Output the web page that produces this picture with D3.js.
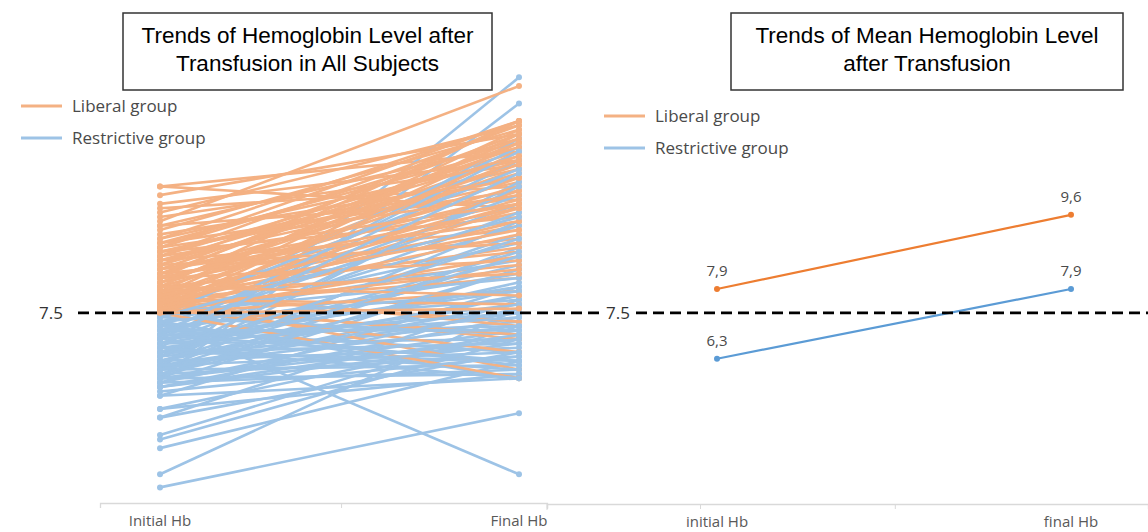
<!DOCTYPE html>
<html><head><meta charset="utf-8">
<script src="https://cdn.jsdelivr.net/npm/d3@7"></script>
<style>body{margin:0;background:#fff}</style>
</head><body>
<svg id="chart" width="1148" height="532"></svg>
<script>
// ---------- DATA ----------
const categoriesLeft = ["Initial Hb", "Final Hb"];
const categoriesRight = ["initial Hb", "final Hb"];
const groups = ["Liberal group", "Restrictive group"];
const threshold = 7.5;

const liberalInitial = [10.4,10.4,10.2,10.0,9.9,9.8,9.7,9.6,9.5,9.5,9.4,9.3,9.2,9.2,9.1,9.0,9.0,8.9,8.9,8.8,8.8,8.7,8.7,8.6,8.6,8.5,8.5,8.4,8.4,8.3,8.3,8.2,8.2,8.1,8.1,8.0,8.0,8.0,7.9,7.9,7.9,7.9,7.8,7.8,7.8,7.8,7.7,7.7,7.7,7.7,7.6,7.6,7.6,7.6,7.6,7.5,7.5,7.5,7.5,7.5,8.6,8.9,9.1,8.3,8.1,7.8,8.4,8.7,9.0,8.2,7.7,8.0,8.5,7.6,7.9,8.8,7.5,8.1,7.7,8.3];
const liberalFinal   = [11.2,9.9,11.6,11.0,10.4,11.8,10.9,12.7,11.4,10.1,11.7,10.6,11.9,11.0,10.3,11.5,11.9,10.8,9.7,11.2,11.8,10.5,9.4,11.6,10.9,10.0,11.3,9.2,10.7,11.9,10.2,9.8,11.1,10.4,8.9,11.5,9.5,7.2,10.8,9.0,7.3,11.7,10.1,8.6,6.2,11.0,9.6,6.9,10.6,8.3,11.4,9.3,6.6,7.0,10.3,8.8,6.0,11.2,9.9,8.0,9.1,10.6,11.3,8.7,11.9,7.7,11.4,11.1,10.2,10.9,10.0,8.4,9.6,8.5,9.4,10.0,7.6,7.9,11.6,9.9];

const restrictiveInitial = [3.5,3.8,7.3,6.2,6.0,4.4,4.6,4.7,5.1,5.1,5.3,5.3,5.6,5.6,5.8,5.8,5.9,5.9,6.0,6.0,6.1,6.1,6.2,6.2,6.3,6.3,6.4,6.4,6.5,6.5,6.6,6.6,6.7,6.7,6.8,6.8,6.9,6.9,7.0,7.0,7.1,7.1,7.2,7.2,7.3,7.3,7.4,7.4,7.4,7.5,7.5,6.0,6.3,6.5,6.7,6.9,7.1,5.9,6.2,6.4,6.6,6.8,7.0,7.2,5.7,6.1,6.3,6.5,6.8,7.3,6.0,6.6,7.0,7.4,5.8,6.2,6.9,7.1,6.4,6.7];
const restrictiveFinal   = [5.2,7.6,3.8,12.9,12.3,6.4,6.9,7.2,6.6,7.8,6.1,7.0,6.0,8.1,6.8,7.4,6.2,8.5,7.1,9.0,6.5,7.9,6.3,8.8,7.5,10.5,6.7,8.2,9.3,7.3,6.4,8.6,11.5,7.7,9.8,6.9,8.0,11.0,7.2,9.5,8.4,6.6,10.2,7.8,9.1,6.0,8.7,11.3,7.0,10.8,8.3,6.1,7.2,8.9,6.2,7.5,10.0,7.6,9.6,7.9,6.8,8.1,11.2,6.3,6.5,8.5,6.6,10.4,7.4,8.0,6.9,9.2,6.4,9.7,7.0,7.7,10.7,7.1,8.8,6.0];

const meanLiberal = [7.9, 9.6];
const meanRestrictive = [6.3, 7.9];
const meanLabelsLiberal = ["7,9", "9,6"];
const meanLabelsRestrictive = ["6,3", "7,9"];

// ---------- STYLE ----------
const lightOrange = "#F4B183", lightBlue = "#9DC3E6";
const darkOrange = "#ED7D31", darkBlue = "#5B9BD5";
const textGray = "#4a4a4a";
const uiFont = "'Open Sans', sans-serif";

const svg = d3.select("#chart");

// ---------- SCALES ----------
const xL = d3.scalePoint().domain(categoriesLeft).range([160, 519]);
const yL = d3.scaleLinear().domain([3, 13.5]).range([509.2, 51.2]);
const xR = d3.scalePoint().domain(categoriesRight).range([717, 1071]);
const yR = d3.scaleLinear().domain([5, 11]).range([415.4, 153.8]);

// ---------- AXES (category baselines) ----------
const axL = svg.append("g").attr("transform", "translate(0,503)")
  .call(d3.axisBottom(d3.scaleLinear().domain([0,1]).range([100,547])).tickValues([0.5393]).tickSize(5).tickFormat(""));
const axR = svg.append("g").attr("transform", "translate(0,504)")
  .call(d3.axisBottom(d3.scaleLinear().domain([0,1]).range([547,1148])).tickValues([0.2546,0.5787]).tickSize(5).tickFormat(""));
[axL, axR].forEach(a => { a.select(".domain").attr("stroke", "#d9d9d9").attr("stroke-width", 1.3); a.selectAll(".tick line").attr("stroke", "#d9d9d9"); });
svg.append("line").attr("x1",547).attr("x2",547).attr("y1",503).attr("y2",510).attr("stroke","#d9d9d9");

svg.selectAll("text.xl").data(categoriesLeft).join("text")
  .attr("x", d => xL(d)).attr("y", 526).attr("text-anchor","middle")
  .style("font-family", uiFont).style("font-size","15px").attr("fill", "#595959").text(d => d);
svg.selectAll("text.xr").data(categoriesRight).join("text")
  .attr("x", d => xR(d)).attr("y", 527).attr("text-anchor","middle")
  .style("font-family", uiFont).style("font-size","15px").attr("fill", "#595959").text(d => d);

// ---------- LEFT: individual lines ----------
const gL = svg.append("g");
const line = d3.line();
const n = Math.max(liberalInitial.length, restrictiveInitial.length);
function drawPair(a, b, col) {
  const pts = [[xL(categoriesLeft[0]), yL(a)], [xL(categoriesLeft[1]), yL(b)]];
  gL.append("path").attr("d", line(pts)).attr("fill","none").attr("stroke", col).attr("stroke-width", 2.6);
  pts.forEach(p => gL.append("circle").attr("cx", p[0]).attr("cy", p[1]).attr("r", 3).attr("fill", col));
}
for (let i = 0; i < n; i++) {
  if (i < liberalInitial.length) drawPair(liberalInitial[i], liberalFinal[i], lightOrange);
  if (i < restrictiveInitial.length) drawPair(restrictiveInitial[i], restrictiveFinal[i], lightBlue);
}

// ---------- RIGHT: mean lines ----------
const gR = svg.append("g");
[[meanLiberal, meanLabelsLiberal, darkOrange], [meanRestrictive, meanLabelsRestrictive, darkBlue]].forEach(([vals, labs, col]) => {
  const pts = vals.map((v, i) => [xR(categoriesRight[i]), yR(v)]);
  gR.append("path").attr("d", line(pts)).attr("fill","none").attr("stroke", col).attr("stroke-width", 2.2);
  pts.forEach((p, i) => {
    gR.append("circle").attr("cx", p[0]).attr("cy", p[1]).attr("r", 3).attr("fill", col);
    gR.append("text").attr("x", p[0]).attr("y", p[1] - 13).attr("text-anchor","middle")
      .style("font-family", uiFont).style("font-size","15px").attr("fill", textGray).text(labs[i]);
  });
});

// ---------- threshold dashed line ----------
const yT = yL(threshold);
svg.append("line").attr("x1", 78).attr("x2", 600).attr("y1", yT).attr("y2", yT)
  .attr("stroke","#000").attr("stroke-width",2.8).attr("stroke-dasharray","11,6");
svg.append("line").attr("x1", 636).attr("x2", 1148).attr("y1", yT).attr("y2", yT)
  .attr("stroke","#000").attr("stroke-width",2.8).attr("stroke-dasharray","11,6");
svg.append("text").attr("x", 51).attr("y", yT + 6).attr("text-anchor","middle")
  .style("font-family", uiFont).style("font-size","17px").attr("fill","#333").text(threshold.toFixed(1));
svg.append("text").attr("x", 618).attr("y", yT + 6).attr("text-anchor","middle")
  .style("font-family", uiFont).style("font-size","17px").attr("fill","#333").text(threshold.toFixed(1));

// ---------- legends ----------
function legend(x, y, colors) {
  groups.forEach((g, i) => {
    const yy = y + i * 32;
    svg.append("line").attr("x1", x).attr("x2", x + 41).attr("y1", yy).attr("y2", yy)
      .attr("stroke", colors[i]).attr("stroke-width", 3);
    svg.append("text").attr("x", x + 51).attr("y", yy + 6)
      .style("font-family", uiFont).style("font-size","17px").attr("fill", textGray).text(g);
  });
}
legend(21, 106, [lightOrange, lightBlue]);
legend(604, 116, [lightOrange, lightBlue]);

// ---------- title boxes ----------
function titleBox(x, y, w, h, lines) {
  svg.append("rect").attr("x", x).attr("y", y).attr("width", w).attr("height", h)
    .attr("fill","#fff").attr("stroke","#333").attr("stroke-width",1.5);
  lines.forEach((t, i) => svg.append("text").attr("x", x + w/2).attr("y", y + 30 + i*28)
    .attr("text-anchor","middle").style("font-family","'Liberation Sans', Arial, sans-serif")
    .style("font-size","22.5px").attr("fill","#000").text(t));
}
titleBox(123, 13, 369, 77, ["Trends of Hemoglobin Level after", "Transfusion in All Subjects"]);
titleBox(731, 13, 392, 77, ["Trends of Mean Hemoglobin Level", "after Transfusion"]);
</script>
</body></html>
